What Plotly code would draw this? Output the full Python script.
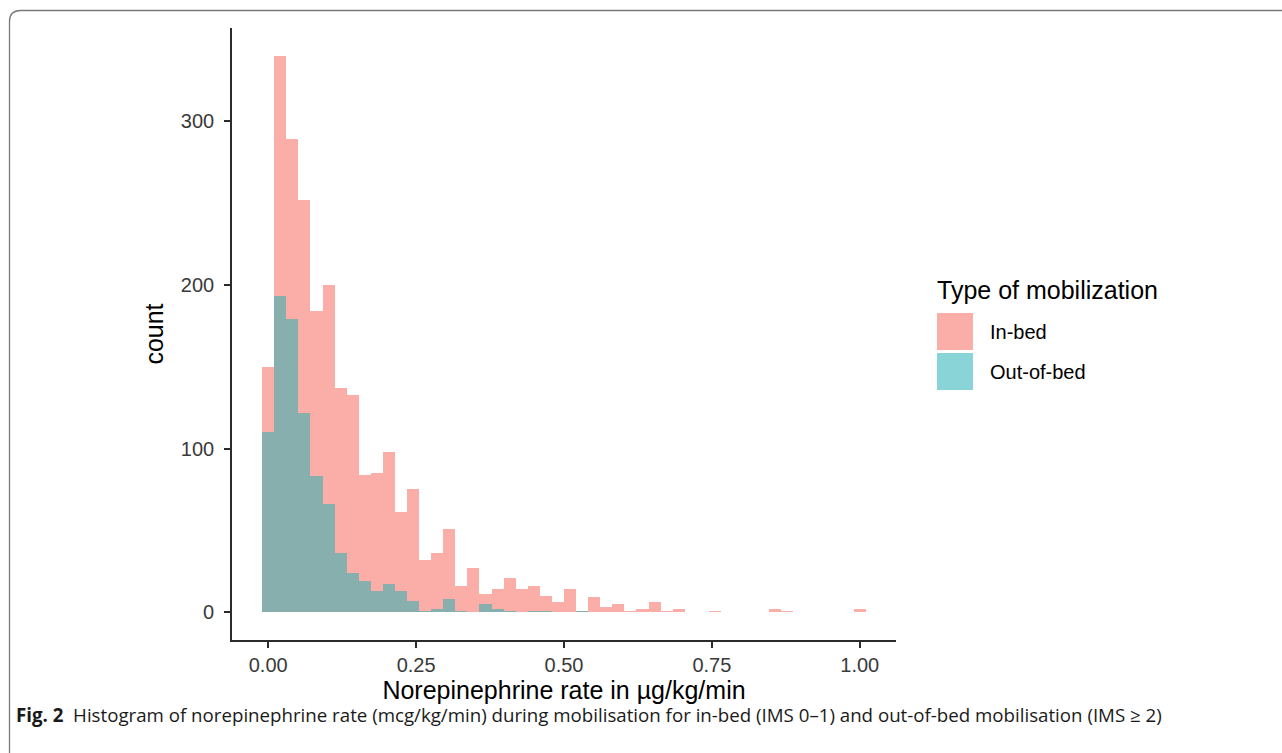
import plotly.graph_objects as go

# ---- data ----
bin_start = 0.0
bin_width = 1.0 / 49
in_bed = [150, 340, 289, 252, 184, 200, 137, 133, 84, 85,
          98, 61, 75, 32, 36, 51, 16, 27, 11, 14,
          21, 14, 16, 10, 6, 14, 1, 9, 3, 5,
          1, 2, 6, 1, 2, 0, 0, 1, 0, 0,
          0, 0, 2, 1, 0, 0, 0, 0, 0, 2]
out_of_bed = [110, 193, 179, 122, 83, 66, 36, 24, 19, 13,
              17, 13, 7, 1, 2, 8, 1, 0, 5, 2,
              1, 0, 1, 1, 0, 0, 1, 0, 0, 0,
              0, 0, 0, 0, 0, 0, 0, 0, 0, 0,
              0, 0, 0, 0, 0, 0, 0, 0, 0, 0]
series_names = ["In-bed", "Out-of-bed"]
x_tickvals = [0, 0.25, 0.5, 0.75, 1.0]
x_ticktext = ["0.00", "0.25", "0.50", "0.75", "1.00"]
y_tickvals = [0, 100, 200, 300]
y_ticktext = ["0", "100", "200", "300"]

centers = [bin_start + i * bin_width for i in range(len(in_bed))]

# ---- layout geometry ----
W, H = 1282, 753
L, R, T, B = 232, 896, 28, 640  # plot area in pixels


def px(xp):
    return (xp - L) / (R - L)


def py(yp):
    return (B - yp) / (B - T)


col_in = "rgba(248,118,109,0.6)"
col_out = "rgba(38,177,180,0.55)"
font = "Liberation Sans, Arial, Helvetica, sans-serif"

fig = go.Figure()
fig.add_trace(go.Bar(x=centers, y=in_bed, width=bin_width, name=series_names[0],
                     marker=dict(color=col_in, line=dict(width=0)), showlegend=False))
fig.add_trace(go.Bar(x=centers, y=out_of_bed, width=bin_width, name=series_names[1],
                     marker=dict(color=col_out, line=dict(width=0)), showlegend=False))

axis_col = "#2b2b2b"
fig.update_layout(
    width=W, height=H,
    margin=dict(l=L, r=W - R, t=T, b=H - B, pad=0),
    paper_bgcolor="white", plot_bgcolor="white",
    barmode="overlay", bargap=0,
    font=dict(family=font, color="#000"),
    xaxis=dict(range=[-0.0612, 1.0612], tickvals=x_tickvals, ticktext=x_ticktext,
               showline=True, linecolor=axis_col, linewidth=1.6,
               ticks="outside", ticklen=6, tickwidth=1.6, tickcolor=axis_col,
               tickfont=dict(size=20, color="#3a3a3a"), ticklabelstandoff=0,
               showgrid=False, zeroline=False,
               title=dict(text="Norepinephrine rate in µg/kg/min",
                          font=dict(size=25, color="#000"), standoff=1)),
    yaxis=dict(range=[-17, 357], tickvals=y_tickvals, ticktext=y_ticktext,
               showline=True, linecolor=axis_col, linewidth=1.6,
               ticks="outside", ticklen=6, tickwidth=1.6, tickcolor=axis_col,
               tickfont=dict(size=20, color="#3a3a3a"), ticklabelstandoff=6,
               showgrid=False, zeroline=False,
               title=dict(text="count", font=dict(size=25, color="#000"), standoff=10)),
)

# ---- manual legend (large square keys as in the reference) ----
shapes = []
keys = [(313, 350, col_in), (353, 390, col_out)]
for y0, y1, c in keys:
    shapes.append(dict(type="rect", xref="paper", yref="paper",
                       x0=px(937), x1=px(973), y0=py(y1), y1=py(y0),
                       fillcolor=c, line=dict(width=0), layer="above"))

# ---- figure frame with rounded top-left corner ----
fx, fy, rad = 9.5, 10.5, 11
path = (f"M {px(fx)} {py(H + 5)} L {px(fx)} {py(fy + rad)} "
        f"Q {px(fx)} {py(fy)} {px(fx + rad)} {py(fy)} L {px(W + 5)} {py(fy)}")
shapes.append(dict(type="path", xref="paper", yref="paper", path=path,
                   line=dict(color="#7a7a7a", width=1.3)))
fig.update_layout(shapes=shapes)

annotations = [
    dict(text="Type of mobilization", x=px(935), y=py(290), xref="paper", yref="paper",
         xanchor="left", yanchor="middle", showarrow=False,
         font=dict(size=25, color="#000", family=font)),
    dict(text=series_names[0], x=px(988), y=py(332), xref="paper", yref="paper",
         xanchor="left", yanchor="middle", showarrow=False,
         font=dict(size=20, color="#000", family=font)),
    dict(text=series_names[1], x=px(988), y=py(372), xref="paper", yref="paper",
         xanchor="left", yanchor="middle", showarrow=False,
         font=dict(size=20, color="#000", family=font)),
    dict(text="<b>Fig. 2</b>  Histogram of norepinephrine rate (mcg/kg/min) during mobilisation "
              "for in-bed (IMS 0–1) and out-of-bed mobilisation (IMS ≥ 2)",
         x=px(14), y=py(714), xref="paper", yref="paper",
         xanchor="left", yanchor="middle", showarrow=False,
         font=dict(size=18.7, color="#1a1a1a", family="Open Sans, Noto Sans, sans-serif")),
]
fig.update_layout(annotations=annotations)

fig.write_html("out.html", config={"displayModeBar": False},
               post_script="document.body.style.margin='0';document.body.style.overflow='hidden';")
